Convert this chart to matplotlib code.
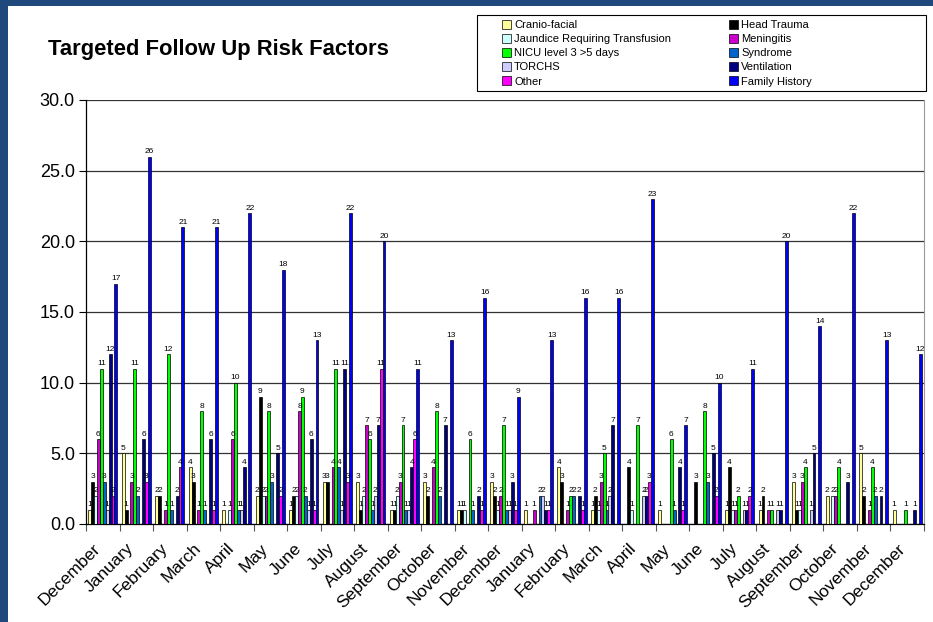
import matplotlib
matplotlib.use('Agg')
import matplotlib.pyplot as plt
import matplotlib.transforms as mtransforms
import numpy as np
from matplotlib.patches import Rectangle, Patch
from matplotlib.ticker import FormatStrFormatter, FixedLocator

plt.rcParams['font.family'] = ['Liberation Sans', 'DejaVu Sans']

# Months, Dec through Dec two years on
months = ['December', 'January', 'February', 'March', 'April', 'May', 'June',
          'July', 'August', 'September', 'October', 'November', 'December',
          'January', 'February', 'March', 'April', 'May', 'June', 'July',
          'August', 'September', 'October', 'November', 'December']

series = ['Cranio-facial', 'Head Trauma', 'Jaundice Requiring Transfusion',
          'Meningitis', 'NICU level 3 >5 days', 'Syndrome', 'TORCHS',
          'Ventilation', 'Other', 'Family History']

cranio      = [1, 5, 2, 4, 1, 2, 1, 3, 3, 1, 3, 1, 3, 1, 4, 1, 0, 1, 0, 1, 1, 3, 2, 5, 1]
head_trauma = [3, 1, 2, 3, 0, 9, 2, 3, 1, 1, 2, 1, 2, 0, 3, 2, 4, 0, 3, 4, 2, 1, 0, 2, 0]
jaundice    = [2, 0, 0, 0, 1, 2, 2, 0, 2, 2, 0, 1, 1, 0, 0, 1, 1, 0, 0, 1, 0, 1, 2, 0, 0]
meningitis  = [6, 3, 1, 1, 6, 2, 8, 4, 7, 3, 4, 0, 2, 1, 1, 3, 0, 0, 0, 1, 1, 3, 2, 1, 0]
nicu        = [11, 11, 12, 8, 10, 8, 9, 11, 6, 7, 8, 6, 7, 0, 2, 5, 7, 6, 8, 2, 1, 4, 4, 4, 1]
syndrome    = [3, 2, 1, 1, 1, 3, 2, 4, 1, 1, 2, 1, 1, 2, 2, 1, 0, 1, 3, 0, 0, 0, 0, 2, 0]
torchs      = [1, 0, 0, 0, 1, 0, 1, 1, 2, 1, 0, 0, 1, 2, 0, 2, 2, 0, 0, 1, 1, 1, 0, 0, 0]
ventilation = [12, 6, 2, 6, 4, 5, 6, 11, 7, 4, 7, 2, 3, 1, 2, 7, 2, 4, 5, 1, 1, 5, 3, 2, 1]
other       = [2, 3, 4, 1, 0, 2, 1, 3, 11, 6, 0, 1, 1, 1, 1, 0, 3, 1, 2, 2, 0, 0, 0, 0, 0]
family_hist = [17, 26, 21, 21, 22, 18, 13, 22, 20, 11, 13, 16, 9, 13, 16, 16, 23, 7, 10, 11, 20, 14, 22, 13, 12]

values = [cranio, head_trauma, jaundice, meningitis, nicu, syndrome, torchs,
          ventilation, other, family_hist]
colors = ['#FFFF99', '#000000', '#CCFFFF', '#CC00CC', '#00FF00', '#0066CC',
          '#CCCCFF', '#000080', '#FF00FF', '#0000FF']

fig = plt.figure(figsize=(9.33, 6.22), dpi=100, facecolor='#1F497D')
fig.add_artist(Rectangle((8 / 933, 0), 1, 1 - 6 / 622, transform=fig.transFigure,
                         facecolor='white', edgecolor='none', zorder=-10))

ax = fig.add_axes([86 / 933, 1 - 524 / 622, 838 / 933, 424 / 622])
ax.set_facecolor('white')

x = np.arange(len(months))
w = 1 / 11.5
for k, (vals, c) in enumerate(zip(values, colors)):
    bars = ax.bar(x + (k - 4.5) * w, vals, width=w, color=c, edgecolor='black',
                  linewidth=0.5, zorder=3)
    ax.bar_label(bars, labels=[str(v) if v else '' for v in vals],
                 fontsize=6, padding=1, zorder=4)

ax.set_xlim(-0.5, len(months) - 0.5)
ax.set_ylim(0, 30)
ax.set_yticks(np.arange(0, 31, 5))
ax.yaxis.set_major_formatter(FormatStrFormatter('%.1f'))
ax.grid(axis='y', color='#333333', linewidth=0.9, zorder=0)
ax.tick_params(axis='y', labelsize=13, length=5, width=0.8, direction='out', pad=3)

# tick marks between months, labels at month centres
ax.xaxis.set_major_locator(FixedLocator(np.arange(-0.5, len(months), 1)))
ax.xaxis.set_minor_locator(FixedLocator(x))
ax.set_xticklabels([])
ax.set_xticklabels(months, minor=True, rotation=45, ha='right',
                   rotation_mode='anchor', fontsize=12.5)
ax.tick_params(axis='x', which='major', length=5, width=0.8, color='#555555')
ax.tick_params(axis='x', which='minor', length=0, pad=12)
shift = mtransforms.ScaledTranslation(-10 / 100, 0, fig.dpi_scale_trans)
for lbl in ax.get_xticklabels(minor=True):
    lbl.set_transform(lbl.get_transform() + shift)

ax.spines['top'].set_visible(False)
ax.spines['right'].set_color('#999999')
ax.spines['left'].set_linewidth(0.9)
ax.spines['bottom'].set_linewidth(0.9)

fig.text(48 / 933, 1 - 50 / 622, 'Targeted Follow Up Risk Factors',
         fontsize=15.8, fontweight='bold', ha='left', va='center')

# legend: two columns filled down, framed box at top right
fig.add_artist(Rectangle((477 / 933, 1 - 91 / 622), 449 / 933, 76 / 622,
                         transform=fig.transFigure, facecolor='white',
                         edgecolor='black', linewidth=0.8))
handles = [Patch(facecolor=c, edgecolor='black', linewidth=0.5) for c in colors]
order = [0, 2, 4, 6, 8, 1, 3, 5, 7, 9]
fig.legend([handles[i] for i in order], [series[i] for i in order],
           loc='upper left', bbox_to_anchor=(502 / 933, 1 - 20 / 622, 310 / 933, 0.0),
           mode='expand', ncol=2, frameon=False, fontsize=8, borderpad=0,
           labelspacing=0.36, handlelength=0.8, handleheight=0.8,
           handletextpad=0.3, borderaxespad=0)

fig.savefig('out.png', dpi=100, facecolor=fig.get_facecolor())
